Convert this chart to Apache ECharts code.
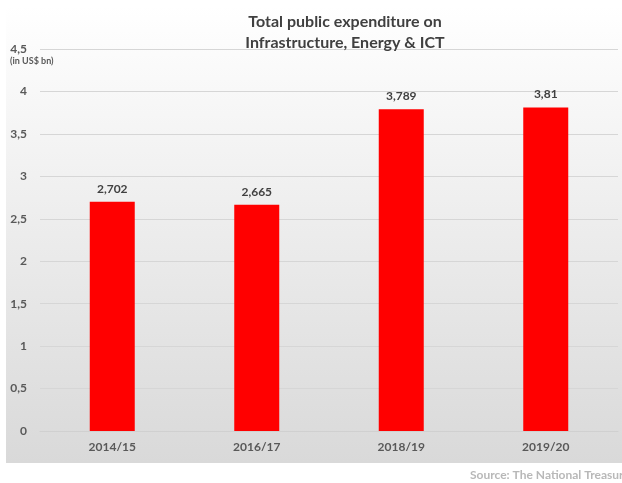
<!DOCTYPE html>
<html>
<head>
<meta charset="utf-8">
<script src="https://cdn.jsdelivr.net/npm/echarts@6/dist/echarts.min.js"></script>
<style>
  html, body { margin: 0; padding: 0; background: #ffffff; }
  #chart { width: 622px; height: 483px; }
</style>
</head>
<body>
<div id="chart"></div>
<script>
// Fiscal years and spending (US$ bn)
const years = ['2014/15', '2016/17', '2018/19', '2019/20'];
const expenditure = [2.702, 2.665, 3.789, 3.81];
const yTicks = { min: 0, max: 4.5, step: 0.5 };

const FONT = 'Lato, "Open Sans", "Liberation Sans", sans-serif';
const comma = v => String(v).replace('.', ',');

const chart = echarts.init(document.getElementById('chart'), null, { renderer: 'canvas' });

chart.setOption({
  backgroundColor: '#ffffff',
  animation: false,
  title: {
    text: 'Total public expenditure on\nInfrastructure, Energy & ICT',
    left: 340,
    top: 6,
    textAlign: 'center',
    textStyle: {
      fontFamily: FONT,
      fontWeight: 'bold',
      fontSize: 16,
      lineHeight: 21,
      color: '#404040'
    }
  },
  graphic: [
    {
      type: 'rect',
      z: -10,
      silent: true,
      shape: { x: 6, y: 6, width: 620, height: 457 },
      style: {
        fill: new echarts.graphic.LinearGradient(0, 0, 0, 1, [
          { offset: 0, color: '#ffffff' },
          { offset: 1, color: '#d9d9d9' }
        ])
      }
    },
    {
      type: 'text',
      left: 10,
      top: 57,
      style: {
        text: '(in US$ bn)',
        fontFamily: FONT,
        fontWeight: 'bold',
        fontSize: 9,
        fill: '#595959'
      }
    },
    {
      type: 'text',
      left: 470,
      top: 469,
      style: {
        text: 'Source: The National Treasury',
        fontFamily: FONT,
        fontWeight: 'bold',
        fontSize: 12,
        fill: '#b8b8b8'
      }
    }
  ],
  grid: { left: 40, right: 4, top: 49, bottom: 52 },
  xAxis: {
    type: 'category',
    data: years,
    axisLine: { show: true, lineStyle: { color: '#d0d0d0' } },
    axisTick: { show: false },
    axisLabel: {
      fontFamily: FONT,
      fontWeight: 'bold',
      fontSize: 12,
      color: '#595959',
      margin: 10
    }
  },
  yAxis: {
    type: 'value',
    min: yTicks.min,
    max: yTicks.max,
    interval: yTicks.step,
    axisLine: { show: false },
    axisTick: { show: false },
    splitLine: { lineStyle: { color: '#d6d6d6', width: 1 } },
    axisLabel: {
      fontFamily: FONT,
      fontWeight: 'bold',
      fontSize: 12,
      color: '#595959',
      margin: 13,
      formatter: v => comma(v)
    }
  },
  series: [
    {
      type: 'bar',
      data: expenditure,
      barWidth: 45,
      itemStyle: { color: '#ff0000' },
      label: {
        show: true,
        position: 'top',
        distance: 7,
        fontFamily: FONT,
        fontWeight: 'bold',
        fontSize: 12,
        color: '#404040',
        formatter: p => comma(p.value)
      }
    }
  ]
});
</script>
</body>
</html>
